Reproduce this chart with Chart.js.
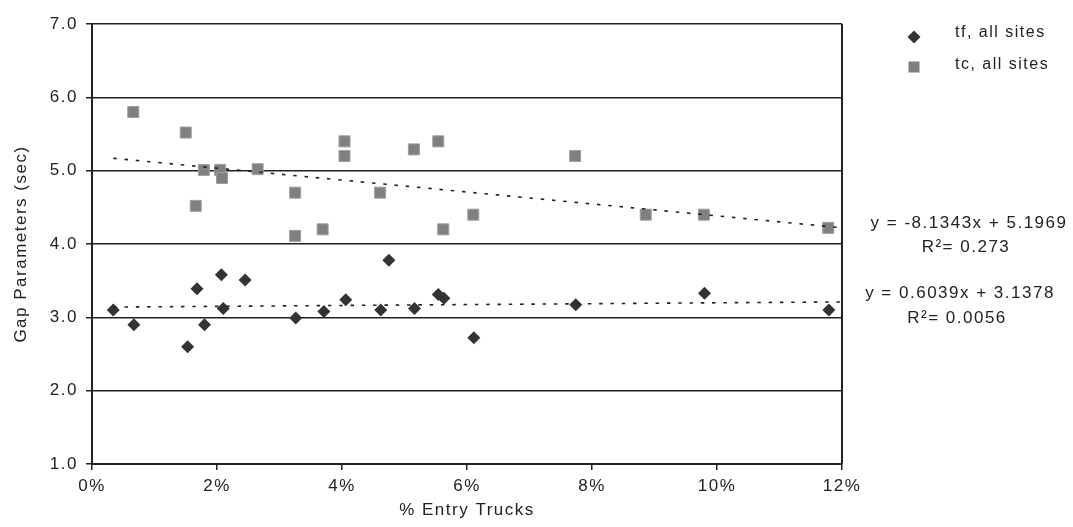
<!DOCTYPE html>
<html>
<head>
<meta charset="utf-8">
<script src="https://cdn.jsdelivr.net/npm/chart.js@4.4.1/dist/chart.umd.min.js"></script>
<style>
  html, body { margin: 0; padding: 0; background: #fff; }
  #wrap { width: 1073px; height: 527px; }
</style>
</head>
<body>
<div id="wrap"><canvas id="gapChart" width="1073" height="527"></canvas></div>
<script>
// tf, all sites (% entry trucks as fraction, gap in sec)
const tfTrucks = [0.0034, 0.0067, 0.0153, 0.0168, 0.0180, 0.0207, 0.0210, 0.0245, 0.0326, 0.0371,
                  0.0406, 0.0462, 0.0475, 0.0516, 0.0554, 0.0563, 0.0611, 0.0774, 0.0980, 0.1179];
const tfGap = [3.10, 2.90, 2.60, 3.39, 2.90, 3.58, 3.12, 3.51, 2.99, 3.08,
               3.24, 3.10, 3.78, 3.12, 3.31, 3.26, 2.72, 3.17, 3.33, 3.10];

// tc, all sites
const tcTrucks = [0.0066, 0.0150, 0.0166, 0.0179, 0.0205, 0.0208, 0.0265, 0.0325, 0.0325, 0.0369,
                  0.0404, 0.0404, 0.0461, 0.0515, 0.0554, 0.0562, 0.0610, 0.0773, 0.0886, 0.0979, 0.1178];
const tcGap = [5.80, 5.52, 4.52, 5.01, 5.01, 4.90, 5.02, 4.70, 4.11, 4.20,
               5.40, 5.20, 4.70, 5.29, 5.40, 4.20, 4.40, 5.20, 4.40, 4.40, 4.22];

// linear trendlines as printed on the chart
const trendRange = [0.0034, 0.12];
const tcTrend = { slope: -8.1343, intercept: 5.1969 };
const tfTrend = { slope: 0.6039, intercept: 3.1378 };
const tcLabel = ['y = -8.1343x + 5.1969', 'R\u00B2= 0.273'];
const tfLabel = ['y = 0.6039x + 3.1378', 'R\u00B2= 0.0056'];

const xTickLabels = ['0%', '2%', '4%', '6%', '8%', '10%', '12%'];
const yTickLabels = ['1.0', '2.0', '3.0', '4.0', '5.0', '6.0', '7.0'];
const legendLabels = ['tf, all sites', 'tc, all sites'];

const FONT = 'Liberation Sans, Arial, sans-serif';
const INK = '#222';

const toPoints = (xs, ys) => xs.map((x, i) => ({ x: x, y: ys[i] }));
const trendPoints = t => trendRange.map(x => ({ x: x, y: t.slope * x + t.intercept }));

// wider letter spacing, like the original rendering
const spacing = {
    id: 'spacing',
    beforeLayout(chart) { chart.ctx.letterSpacing = '1.5px'; },
    beforeDraw(chart) { chart.ctx.letterSpacing = '1.5px'; }
};

// right border, legend and trendline equations
const extras = {
    id: 'extras',
    afterDraw(chart) {
        const ctx = chart.ctx;
        const area = chart.chartArea;
        ctx.save();
        ctx.strokeStyle = INK;
        ctx.lineWidth = 2;
        ctx.beginPath();
        ctx.moveTo(area.right, area.top);
        ctx.lineTo(area.right, area.bottom);
        ctx.stroke();

        // legend
        ctx.fillStyle = '#333';
        ctx.beginPath();
        ctx.moveTo(914, 30.5);
        ctx.lineTo(920.5, 37);
        ctx.lineTo(914, 43.5);
        ctx.lineTo(907.5, 37);
        ctx.closePath();
        ctx.fill();
        ctx.fillStyle = '#808080';
        ctx.fillRect(908.5, 61.5, 11, 11);

        ctx.fillStyle = INK;
        ctx.font = '16px ' + FONT;
        ctx.textBaseline = 'middle';
        ctx.textAlign = 'left';
        ctx.fillText(legendLabels[0], 955, 33);
        ctx.fillText(legendLabels[1], 955, 65);

        // equations
        ctx.font = '17px ' + FONT;
        ctx.textAlign = 'center';
        ctx.fillText(tcLabel[0], 969, 223);
        ctx.fillText(tcLabel[1], 966, 247);
        ctx.fillText(tfLabel[0], 960, 293);
        ctx.fillText(tfLabel[1], 957, 318);
        ctx.restore();
    }
};

const ctx = document.getElementById('gapChart').getContext('2d');
const gapChart = new Chart(ctx, {
    type: 'scatter',
    data: {
        datasets: [
            {
                label: legendLabels[0],
                data: toPoints(tfTrucks, tfGap),
                pointStyle: 'rectRot',
                pointRadius: 6.5,
                backgroundColor: '#333',
                borderColor: '#333',
                borderWidth: 0,
                order: 2
            },
            {
                label: legendLabels[1],
                data: toPoints(tcTrucks, tcGap),
                pointStyle: 'rect',
                pointRadius: 7.8,
                backgroundColor: '#808080',
                borderColor: '#a0a0a0',
                borderWidth: 1,
                order: 2
            },
            {
                type: 'line',
                data: trendPoints(tcTrend),
                borderColor: INK,
                borderWidth: 1.6,
                borderDash: [3.5, 7.8],
                pointRadius: 0,
                fill: false,
                order: 0
            },
            {
                type: 'line',
                data: trendPoints(tfTrend),
                borderColor: INK,
                borderWidth: 1.6,
                borderDash: [3.5, 7.8],
                pointRadius: 0,
                fill: false,
                order: 0
            }
        ]
    },
    options: {
        responsive: false,
        animation: false,
        layout: { padding: { left: 0, top: 24, right: 231, bottom: 0 } },
        plugins: {
            legend: { display: false },
            tooltip: { enabled: false }
        },
        scales: {
            x: {
                type: 'linear',
                min: 0,
                max: 0.12,
                afterFit: scale => { scale.height = 63; },
                ticks: {
                    stepSize: 0.02,
                    padding: 6,
                    color: INK,
                    font: { family: FONT, size: 17 },
                    callback: (v, i) => xTickLabels[i]
                },
                grid: { drawOnChartArea: false, tickLength: 6, color: INK, lineWidth: 1.5 },
                border: { color: INK, width: 2 },
                title: {
                    display: true,
                    text: '% Entry Trucks',
                    color: INK,
                    font: { family: FONT, size: 17 },
                    padding: { top: 0, bottom: 6 }
                }
            },
            y: {
                min: 1,
                max: 7,
                afterFit: scale => { scale.width = 92; },
                ticks: {
                    stepSize: 1,
                    padding: 8,
                    color: INK,
                    font: { family: FONT, size: 17 },
                    callback: (v, i) => yTickLabels[i]
                },
                grid: { color: INK, lineWidth: 1.5, tickLength: 6 },
                border: { color: INK, width: 2 },
                title: {
                    display: true,
                    text: 'Gap Parameters (sec)',
                    color: INK,
                    font: { family: FONT, size: 17 },
                    padding: { top: 11, bottom: 0 }
                }
            }
        }
    },
    plugins: [spacing, extras]
});
</script>
</body>
</html>
